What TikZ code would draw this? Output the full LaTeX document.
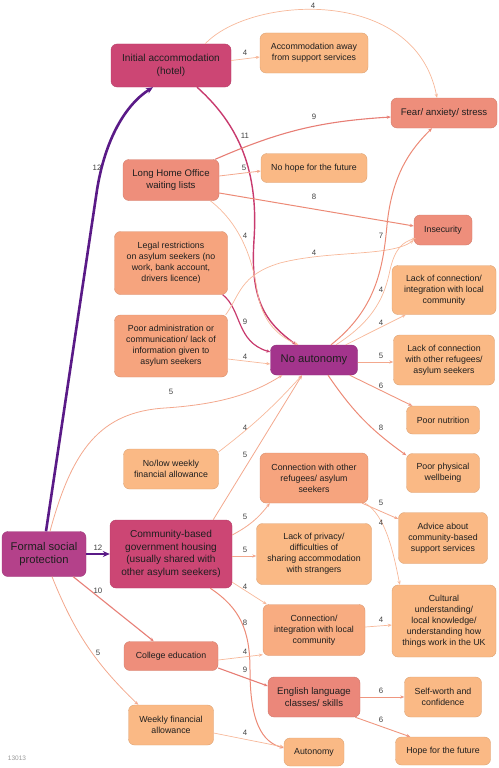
\documentclass[tikz,border=0pt]{standalone}
\usepackage{fontspec}
\setmainfont{Liberation Sans}
\usetikzlibrary{calc,arrows.meta}

\definecolor{cPurple}{HTML}{A3348C}
\definecolor{cPlum}{HTML}{B4418A}
\definecolor{cRose}{HTML}{CC4674}
\definecolor{cSalmon}{HTML}{EE8E7B}
\definecolor{cApricot}{HTML}{F6A47E}
\definecolor{cPeach}{HTML}{FAB985}
\definecolor{eViolet}{HTML}{5A1A87}
\definecolor{eRose}{HTML}{C83A6E}
\definecolor{eSalmon}{HTML}{EC8A76}
\definecolor{ePeach}{HTML}{F7B89A}

\tikzset{
  box/.style={draw=#1!88!black, fill=#1, line width=0.4pt, rounded corners=6pt,
    align=center, inner sep=2pt, text=black!88, font=\fontsize{8.8}{11}\selectfont},
  f95/.style={font=\fontsize{9.6}{11.6}\selectfont},
  f10/.style={font=\fontsize{10.1}{12.6}\selectfont},
  f11/.style={font=\fontsize{11.2}{13.4}\selectfont},
  lbl/.style={inner sep=0pt, text=black!75, font=\fontsize{7.8}{9}\selectfont},
  lnk/.style={-{Stealth[length=4pt,width=3.2pt]}, line join=round},
  e4/.style={lnk, draw=ePeach, line width=0.7pt},
  e5/.style={lnk, draw=ePeach!65!eSalmon, line width=0.8pt},
  e6/.style={lnk, draw=eSalmon!75!ePeach, line width=0.9pt},
  e8/.style={lnk, draw=eSalmon, line width=1pt},
  e10/.style={lnk, draw=eSalmon!85!eRose, line width=1.1pt},
  e11/.style={lnk, draw=eRose, line width=1.4pt},
  e12/.style={-{Stealth[length=7pt,width=6pt]}, line join=round, draw=eViolet, line width=2.6pt}
}

\begin{document}
\begin{tikzpicture}[x=1pt,y=-1pt]
		\useasboundingbox (0,0) rectangle (498,768);
		%%%%% BOXES %%%%%
		\node[box=cRose, f10, minimum width=120, minimum height=43] (ia) at (171,65.5) {Initial accommodation\\(hotel)};
		\node[box=cPeach, minimum width=108, minimum height=40] (away) at (314,53) {Accommodation away\\from support services};
		\node[box=cSalmon, f95, minimum width=106, minimum height=30] (fear) at (444,113) {Fear/ anxiety/ stress};
		\node[box=cSalmon, f95, minimum width=96, minimum height=41] (lho) at (171,180) {Long Home Office\\waiting lists};
		\node[box=cPeach, minimum width=106, minimum height=29] (nohope) at (314,168) {No hope for the future};
		\node[box=cSalmon, minimum width=58, minimum height=30] (insec) at (443,230) {Insecurity};
		\node[box=cApricot, minimum width=113, minimum height=63] (legal) at (171,263) {Legal restrictions\\on asylum seekers (no\\work, bank account,\\drivers licence)};
		\node[box=cPeach, minimum width=104, minimum height=49] (lcint) at (444,290) {Lack of connection/\\integration with local\\community};
		\node[box=cApricot, minimum width=113, minimum height=62] (admin) at (171,346) {Poor administration or\\communication/ lack of\\information given to\\asylum seekers};
		\node[box=cPurple, f11, minimum width=87, minimum height=30] (na) at (314,360) {No autonomy};
		\node[box=cPeach, minimum width=101, minimum height=50] (lcref) at (444,360) {Lack of connection\\with other refugees/\\asylum seekers};
		\node[box=cPeach, minimum width=73, minimum height=28] (nutr) at (443,420) {Poor nutrition};
		\node[box=cPeach, minimum width=73, minimum height=39] (phys) at (443,473) {Poor physical\\wellbeing};
		\node[box=cPeach, minimum width=95, minimum height=40] (nolow) at (171,469) {No/low weekly\\financial allowance};
		\node[box=cApricot, minimum width=108, minimum height=50] (cref) at (314,478) {Connection with other\\refugees/ asylum\\seekers};
		\node[box=cPlum, f11, minimum width=84, minimum height=45] (fsp) at (44,554) {Formal social\\protection};
		\node[box=cRose, f10, minimum width=122, minimum height=68] (ch) at (171,554) {Community-based\\government housing\\(usually shared with\\other asylum seekers)};
		\node[box=cPeach, minimum width=115, minimum height=61] (priv) at (314,554) {Lack of privacy/\\difficulties of\\sharing accommodation\\with strangers};
		\node[box=cPeach, minimum width=89, minimum height=51] (advice) at (443,538) {Advice about\\community-based\\support services};
		\node[box=cApricot!60!cPeach, minimum width=102, minimum height=51] (cint) at (314,630) {Connection/\\integration with local\\community};
		\node[box=cPeach, minimum width=104, minimum height=72] (cult) at (444,621) {Cultural\\understanding/\\local knowledge/\\understanding how\\things work in the UK};
		\node[box=cSalmon, minimum width=94, minimum height=29] (college) at (171,656) {College education};
		\node[box=cSalmon!90!cRose, f95, minimum width=92, minimum height=40] (english) at (314,697) {English language\\classes/ skills};
		\node[box=cPeach, minimum width=77, minimum height=40] (self) at (443,697) {Self-worth and\\confidence};
		\node[box=cPeach, minimum width=85, minimum height=40] (weekly) at (171,725) {Weekly financial\\allowance};
		\node[box=cPeach, minimum width=60, minimum height=28] (auto) at (314,752) {Autonomy};
		\node[box=cPeach, minimum width=95, minimum height=28] (hope) at (443,751) {Hope for the future};
		\node[inner sep=0pt, text=black!40, font=\fontsize{6.5}{7}\selectfont] (code) at (17,758) {13013};
		
		%%%%% FORMAL SOCIAL PROTECTION %%%%%
		\draw[e12] ($(fsp.north)+(2,0)$) -- (97,190) .. controls (105,140) and (125,105) .. ($(ia.south)+(-18,0)$);
		\node[lbl] (w-fsp-ia) at (97,168) {12};
		\draw[e12] (fsp.east) -- (ch.west);
		\node[lbl] (w-fsp-ch) at (98,548) {12};
		\draw[e5] ($(fsp.north)+(6,0)$) .. controls (72,450) and (100,412) .. (165,408) .. controls (225,404) and (255,392) .. ($(na.south west)+(12,0)$);
		\node[lbl] (w-fsp-na) at (171,392) {5};
		\draw[e10] ($(fsp.south east)+(-13,0)$) -- ($(college.north west)+(30,0)$);
		\node[lbl] (w-fsp-col) at (98,591) {10};
		\draw[e5] ($(fsp.south)+(8,0)$) to[bend right=12] ($(weekly.north west)+(10,0)$);
		\node[lbl] (w-fsp-wk) at (98,653) {5};
		
		%%%%% INITIAL ACCOMMODATION %%%%%
		\draw[e4] ($(ia.east)+(0,-5)$) -- ($(away.west)+(0,4)$);
		\node[lbl] (w-ia-away) at (245,53) {4};
		\draw[e4] ($(ia.north east)+(-26,0)$) .. controls (250,-4) and (415,-15) .. ($(fear.north)+(-7,0)$);
		\node[lbl] (w-ia-fear) at (313,6) {4};
		\draw[e11] ($(ia.south)+(26,0)$) .. controls (245,130) and (258,180) .. (254,240) .. controls (250,300) and (265,322) .. ($(na.north west)+(26,0)$);
		\node[lbl] (w-ia-na) at (245,136) {11};
		
		%%%%% LONG HOME OFFICE %%%%%
		\draw[e10] ($(lho.north east)+(-4,0)$) to[bend left=10] ($(fear.west)+(0,4)$);
		\node[lbl] (w-lho-fear) at (314,117) {9};
		\draw[e5] ($(lho.east)+(0,-4)$) -- ($(nohope.west)+(0,3)$);
		\node[lbl] (w-lho-hope) at (244,168) {5};
		\draw[e8] ($(lho.east)+(0,13)$) -- ($(insec.west)+(0,-4)$);
		\node[lbl] (w-lho-ins) at (314,197) {8};
		\draw[e4] ($(lho.south east)+(-9,0)$) .. controls (238,222) and (252,255) .. (257,290) .. controls (262,322) and (278,336) .. ($(na.north west)+(28,0)$);
		\node[lbl] (w-lho-na) at (245,236) {4};
		
		%%%%% LEGAL / ADMINISTRATION %%%%%
		\draw[e11, line width=1.2pt] ($(legal.south east)+(-5,0)$) .. controls (242,310) and (236,342) .. ($(na.west)+(0,-8)$);
		\node[lbl] (w-leg-na) at (245,322) {9};
		\draw[e4] ($(admin.north east)+(-2,0)$) .. controls (240,295) and (240,275) .. (280,263) .. controls (330,250) and (390,257) .. ($(insec.south west)+(0,-5)$);
		\node[lbl] (w-adm-ins) at (314,253) {4};
		\draw[e4] ($(admin.east)+(0,13)$) -- ($(na.west)+(0,4)$);
		\node[lbl] (w-adm-na) at (245,357) {4};
		
		%%%%% NO AUTONOMY %%%%%
		\draw[e8] ($(na.north)+(17,0)$) .. controls (375,310) and (383,270) .. (387,225) .. controls (392,175) and (410,150) .. ($(fear.south)+(-12,0)$);
		\node[lbl] (w-na-fear) at (381,236) {7};
		\draw[e4] ($(na.north)+(22,0)$) .. controls (375,320) and (385,295) .. (390,270) .. controls (395,248) and (403,242) .. ($(insec.south west)+(2,-7)$);
		\node[lbl] (w-na-ins) at (381,290) {4};
		\draw[e4] ($(na.north east)+(-12,0)$) -- ($(lcint.south west)+(14,0)$);
		\node[lbl] (w-na-lci) at (381,323) {4};
		\draw[e5] ($(na.east)+(0,2)$) -- ($(lcref.west)+(0,2)$);
		\node[lbl] (w-na-lcr) at (381,356) {5};
		\draw[e6] ($(na.south east)+(-8,0)$) -- ($(nutr.north west)+(6,0)$);
		\node[lbl] (w-na-nut) at (381,386) {6};
		\draw[e8] ($(na.south)+(14,0)$) to[bend right=10] ($(phys.north west)+(0,2)$);
		\node[lbl] (w-na-phy) at (381,428) {8};
		\draw[e4] ($(nolow.north east)+(0,3)$) to[bend right=5] ($(na.south)+(-12,0)$);
		\node[lbl] (w-low-na) at (245,428) {4};
		
		%%%%% COMMUNITY HOUSING %%%%%
		\draw[e5] ($(ch.north east)+(-19,0)$) -- ($(na.south)+(-12,0)$);
		\node[lbl] (w-ch-na) at (245,455) {5};
		\draw[e5] ($(ch.east)+(0,-19)$) to[bend right=12] ($(cref.south west)+(10,0)$);
		\node[lbl] (w-ch-cref) at (245,517) {5};
		\draw[e5] ($(ch.east)+(0,2)$) -- ($(priv.west)+(0,2)$);
		\node[lbl] (w-ch-priv) at (245,550) {5};
		\draw[e4] ($(ch.south east)+(0,-6)$) -- ($(cint.north west)+(4,0)$);
		\node[lbl] (w-ch-cint) at (245,587) {4};
		\draw[e8] ($(ch.south east)+(-22,0)$) .. controls (240,608) and (250,630) .. (250,670) .. controls (250,722) and (262,742) .. ($(auto.west)+(0,-4)$);
		\node[lbl] (w-ch-auto) at (245,623) {8};
		
		%%%%% EDUCATION / ALLOWANCE %%%%%
		\draw[e4] ($(college.east)+(0,4)$) -- ($(cint.south west)+(0,-1)$);
		\node[lbl] (w-col-cint) at (245,652) {4};
		\draw[e10] ($(college.east)+(0,12)$) -- ($(english.west)+(0,-11)$);
		\node[lbl] (w-col-eng) at (245,670) {9};
		\draw[e4] ($(weekly.east)+(0,8)$) -- ($(auto.west)+(0,-5)$);
		\node[lbl] (w-wk-auto) at (245,733) {4};
		
		%%%%% RIGHT COLUMN %%%%%
		\draw[e5] ($(cref.south east)+(-6,0)$) -- ($(advice.west)+(0,-19)$);
		\node[lbl] (w-cref-adv) at (381,503) {5};
		\draw[e4] ($(cref.south east)+(-3,0)$) .. controls (385,515) and (393,550) .. ($(cult.north west)+(8,0)$);
		\node[lbl] (w-cref-cult) at (381,523) {4};
		\draw[e4] ($(cint.east)+(0,-3)$) -- ($(cult.west)+(0,4)$);
		\node[lbl] (w-cint-cult) at (381,620) {4};
		\draw[e6] (english.east) -- (self.west);
		\node[lbl] (w-eng-self) at (381,691) {6};
		\draw[e6] ($(english.south east)+(-5,0)$) -- ($(hope.north west)+(15,0)$);
		\node[lbl] (w-eng-hope) at (381,720) {6};
		%%%%% END %%%%%
	\end{tikzpicture}
\end{document}
